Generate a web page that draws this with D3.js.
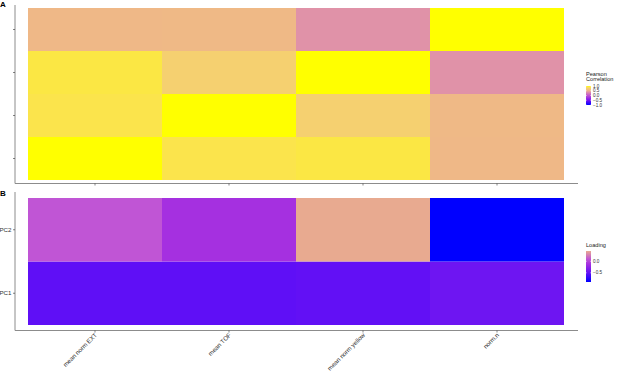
<!DOCTYPE html>
<html><head><meta charset="utf-8">
<script src="https://cdn.jsdelivr.net/npm/d3@7"></script>
<style>body{margin:0;background:#fff}svg{display:block;font-family:"Liberation Sans",Arial,sans-serif}</style>
</head><body><svg id="c" width="617" height="374"></svg>
<script>
// ---- data ----
const variables = ["mean norm EXT", "mean TOF", "mean norm yellow", "norm.n"];
// correlation rows (bottom to top follow variables order)
const corrEXT    = [1.00, 0.90, 0.91, 0.55];
const corrTOF    = [0.90, 1.00, 0.76, 0.56];
const corrYellow = [0.91, 0.76, 1.00, 0.35];
const corrN      = [0.55, 0.56, 0.35, 1.00];
const corrRows = [corrEXT, corrTOF, corrYellow, corrN];
const pcs = ["PC1", "PC2"];
const loadPC1 = [-0.52, -0.52, -0.51, -0.44];
const loadPC2 = [0.10, -0.12, 0.45, -0.90];
const loadRows = [loadPC1, loadPC2];
const corrTicks = [1.0, 0.5, 0.0, -0.5, -1.0];
const loadTicks = [0.0, -0.5];

const svg = d3.select("#c");
const axisCol = "#8c8c8c";
const fs = 6.2;

const corrColor = d3.scaleLinear()
  .domain([-1, -0.5, 0, 0.35, 0.55, 0.76, 0.9, 1])
  .range(["#0000FF", "#7A12F2", "#C052D0", "#E092A8", "#EFB887", "#F5D070", "#FBE44C", "#FFFF00"]);
const loadColor = d3.scaleLinear()
  .domain([-0.9, -0.5, -0.12, 0.1, 0.45])
  .range(["#0000FF", "#6410F5", "#A530E0", "#C055D5", "#E8AA90"]);

const x = d3.scaleBand().domain(variables).range([28, 564]);

// ---- Panel A ----
const yA = d3.scaleBand().domain(variables).range([180, 8]);
const cellsA = [];
corrRows.forEach((row, ri) => row.forEach((v, ci) => cellsA.push({r: variables[ri], c: variables[ci], v})));
svg.append("g").selectAll("rect").data(cellsA).join("rect")
  .attr("x", d => x(d.c)).attr("y", d => yA(d.r))
  .attr("width", x.bandwidth()).attr("height", yA.bandwidth())
  .attr("fill", d => corrColor(d.v));

function styleAxis(g){
  g.selectAll(".domain").remove();
  g.selectAll(".tick line").attr("stroke", "#333").attr("stroke-width", 0.6);
  g.selectAll("text").attr("font-size", fs).attr("fill", "#333");
}
// axis lines
svg.append("line").attr("x1", 15).attr("x2", 15).attr("y1", 5).attr("y2", 183.5).attr("stroke", axisCol);
svg.append("line").attr("x1", 15).attr("x2", 578).attr("y1", 183.5).attr("y2", 183.5).attr("stroke", axisCol);
svg.append("g").attr("transform", "translate(15,0)")
  .call(d3.axisLeft(yA).tickSize(2).tickFormat(""))
  .call(styleAxis);
svg.append("g").attr("transform", "translate(0,183.5)")
  .call(d3.axisBottom(x).tickSize(2).tickFormat(""))
  .call(styleAxis);

// ---- Panel B ----
const yB = d3.scaleBand().domain(pcs).range([325, 198]);
const cellsB = [];
loadRows.forEach((row, ri) => row.forEach((v, ci) => cellsB.push({r: pcs[ri], c: variables[ci], v})));
svg.append("g").selectAll("rect").data(cellsB).join("rect")
  .attr("x", d => x(d.c)).attr("y", d => yB(d.r))
  .attr("width", x.bandwidth()).attr("height", yB.bandwidth())
  .attr("fill", d => loadColor(d.v));
svg.append("line").attr("x1", 15).attr("x2", 15).attr("y1", 192).attr("y2", 330.5).attr("stroke", axisCol);
svg.append("line").attr("x1", 15).attr("x2", 578).attr("y1", 330.5).attr("y2", 330.5).attr("stroke", axisCol);
svg.append("g").attr("transform", "translate(15,0)")
  .call(d3.axisLeft(yB).tickSize(2).tickPadding(1.5))
  .call(styleAxis);
const xb = svg.append("g").attr("transform", "translate(0,330.5)")
  .call(d3.axisBottom(x).tickSize(2))
  .call(styleAxis);
xb.selectAll("text")
  .attr("text-anchor", "end")
  .attr("dy", null).attr("y", 0)
  .attr("transform", "translate(2.5,5) rotate(-45)");

// panel labels
svg.append("text").attr("x", 0).attr("y", 7).attr("font-size", 8).attr("font-weight", "bold").text("A");
svg.append("text").attr("x", 0).attr("y", 196).attr("font-size", 8).attr("font-weight", "bold").text("B");

// ---- Legends ----
const defs = svg.append("defs");
function legend(id, title, colorFn, lo, hi, ticks, x0, yTop, yBot, titleY) {
  const grad = defs.append("linearGradient").attr("id", id)
    .attr("x1", 0).attr("x2", 0).attr("y1", 1).attr("y2", 0);
  d3.range(0, 21).forEach(i => {
    const t = i / 20;
    grad.append("stop").attr("offset", t).attr("stop-color", colorFn(lo + (hi - lo) * t));
  });
  const s = d3.scaleLinear().domain([lo, hi]).range([yBot, yTop]);
  const g = svg.append("g");
  title.forEach((t, i) => g.append("text").attr("x", x0).attr("y", titleY + i * 5.3)
    .attr("font-size", 5.6).attr("fill", "#222").text(t));
  g.append("rect").attr("x", x0).attr("y", yTop).attr("width", 5).attr("height", yBot - yTop)
    .attr("fill", `url(#${id})`);
  g.selectAll("text.tk").data(ticks).join("text").attr("class", "tk")
    .attr("x", x0 + 7).attr("y", d => s(d)).attr("dy", "0.35em")
    .attr("font-size", 4.6).attr("fill", "#333")
    .text(d => d3.format(".1f")(d).replace("-", "\u2212"));
  g.selectAll("line.tk").data(ticks).join("line").attr("class", "tk")
    .attr("x1", x0).attr("x2", x0 + 1).attr("y1", d => s(d)).attr("y2", d => s(d)).attr("stroke", "#fff").attr("stroke-width", 0.4);
  g.selectAll("line.tk2").data(ticks).join("line").attr("class", "tk2")
    .attr("x1", x0 + 4).attr("x2", x0 + 5).attr("y1", d => s(d)).attr("y2", d => s(d)).attr("stroke", "#fff").attr("stroke-width", 0.4);
}
legend("gA", ["Pearson", "Correlation"], corrColor, -1, 1, corrTicks, 586, 86, 105, 75.5);
legend("gB", ["Loading"], loadColor, -0.9, 0.45, loadTicks, 586, 251, 282, 246.5);
</script></body></html>
